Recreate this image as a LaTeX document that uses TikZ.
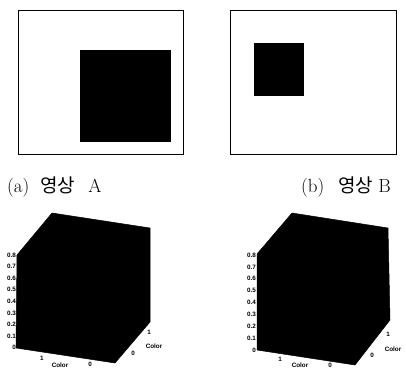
\documentclass[tikz,border=0pt]{standalone}
\usepackage{fontspec}
\newfontfamily\krfont{Noto Sans CJK KR}
\newfontfamily\axisfont{Liberation Sans}
\usetikzlibrary{positioning}
\tikzset{
  frame/.style={draw=black,line width=0.9pt,fill=white},
  blob/.style={fill=black},
  cube/.style={fill=black,draw=black,line width=0.5pt,line join=round},
  caption/.style={font=\fontsize{19}{21}\selectfont,inner sep=0pt,anchor=base west},
  tick/.style={font=\axisfont\bfseries\fontsize{6.3}{7}\selectfont,inner sep=0pt},
}

\begin{document}
\begin{tikzpicture}[x=1pt,y=-1pt]
  \useasboundingbox (0,0) rectangle (406,369);

  % image A and image B
  \draw[frame] (18,10) rectangle (183,154);
  \fill[blob] (80,50) rectangle (171,142);
  \draw[frame] (230,10) rectangle (396,154);
  \fill[blob] (254,43) rectangle (304,96);

  \node[caption] (capA) at (7,192) {(a)\hspace{11pt}{\krfont 영상}\hspace{13pt}A};
  \node[caption] (capB) at (301,192) {(b)\hspace{14pt}{\krfont 영상}\hspace{5pt}B};

  % histogram cubes
  \filldraw[cube] (52,213) -- (150,228) -- (150,322) -- (115,363) -- (16,348) -- (17,255) -- cycle;
  \filldraw[cube] (292,213) -- (388,228) -- (390,320) -- (355,365) -- (257,350) -- (257,254) -- cycle;

  \foreach \lab [count=\i from 0] in {0.8,0.7,0.6,0.5,0.4,0.3,0.2,0.1,0} {
    \node[tick,anchor=east] (zA\i) at (16,{255+11.6*\i}) {\lab};
    \node[tick,anchor=east] (zB\i) at (256,{255+11.9*\i}) {\lab};
  }

  \node[tick] (xA1) at (42,358) {1};
  \node[tick] (xA0) at (90,364) {0};
  \node[tick] (xAlab) at (60,365) {Color};
  \node[tick] (yA1) at (149,332) {1};
  \node[tick] (yA0) at (133,353) {0};
  \node[tick] (yAlab) at (154,346) {Color};

  \node[tick] (xB1) at (280,359) {1};
  \node[tick] (xB0) at (330,365) {0};
  \node[tick] (xBlab) at (300,365) {Color};
  \node[tick] (yB1) at (388,334) {1};
  \node[tick] (yB0) at (372,355) {0};
  \node[tick] (yBlab) at (393,349) {Color};
\end{tikzpicture}
\end{document}
